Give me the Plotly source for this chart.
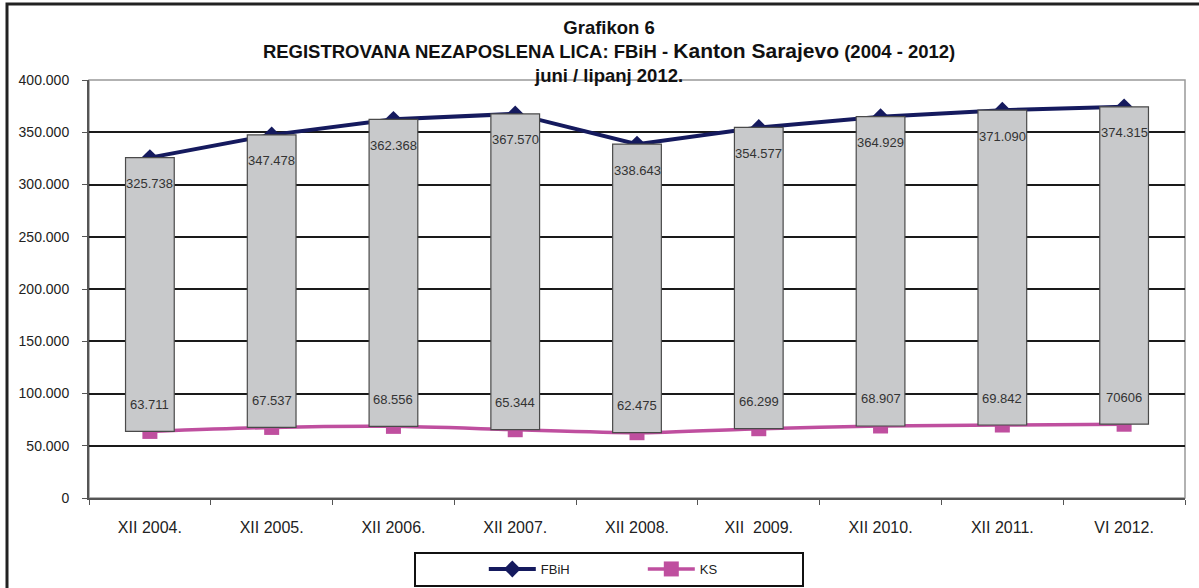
import plotly.graph_objects as go

categories = ["XII 2004.", "XII 2005.", "XII 2006.", "XII 2007.", "XII 2008.",
              "XII\u00a0 2009.", "XII 2010.", "XII 2011.", "VI 2012."]
fbih = [325738, 347478, 362368, 367570, 338643, 354577, 364929, 371090, 374315]
ks = [63711, 67537, 68556, 65344, 62475, 66299, 68907, 69842, 70606]
fbih_labels = ["325.738", "347.478", "362.368", "367.570", "338.643",
               "354.577", "364.929", "371.090", "374.315"]
ks_labels = ["63.711", "67.537", "68.556", "65.344", "62.475",
             "66.299", "68.907", "69.842", "70606"]
y_ticks = [0, 50000, 100000, 150000, 200000, 250000, 300000, 350000, 400000]
grid_vals = [50000, 100000, 150000, 200000, 250000, 300000, 350000]

FONT = "Liberation Sans, Arial, sans-serif"

fig = go.Figure()

fig.add_trace(go.Scatter(
    x=categories, y=fbih, name="FBiH", mode="lines+markers",
    line=dict(color="#151a5e", width=4),
    marker=dict(symbol="diamond", size=13, color="#151a5e"),
    yaxis="y"))
fig.add_trace(go.Scatter(
    x=categories, y=ks, name="KS", mode="lines+markers",
    line=dict(color="#bf4f9f", width=3.5, shape="spline", smoothing=0.6),
    marker=dict(symbol="square", size=15, color="#bf4f9f"),
    yaxis="y"))

fig.add_trace(go.Bar(
    x=categories, y=[f - k for f, k in zip(fbih, ks)], base=ks,
    marker=dict(color="#c8c9cb", line=dict(color="#4a4a4a", width=1.2)),
    width=0.4, showlegend=False, hoverinfo="skip", yaxis="y2"))

annotations = []
for c, v, t in zip(categories, fbih, fbih_labels):
    annotations.append(dict(x=c, y=v, text=t, showarrow=False, yshift=-26,
                            font=dict(size=13, color="#333333", family=FONT)))
for c, v, t in zip(categories, ks, ks_labels):
    annotations.append(dict(x=c, y=v, text=t, showarrow=False, yshift=27,
                            font=dict(size=13, color="#333333", family=FONT)))

title_text = ("<b>Grafikon 6<br>REGISTROVANA NEZAPOSLENA LICA: FBiH - "
              "<span style='font-size:21px'>Kanton Sarajevo</span> (2004 - 2012)"
              "<br>juni / lipanj 2012.</b>")

fig.update_layout(
    width=1199, height=588,
    paper_bgcolor="white", plot_bgcolor="white",
    margin=dict(l=89, r=14, t=80, b=90),
    separators=",.",
    font=dict(family=FONT, size=13, color="#222222"),
    title=dict(text=title_text, x=0.508, xanchor="center",
               y=0.942, yanchor="top", yref="container",
               font=dict(family=FONT, size=18.5, color="#111111")),
    xaxis=dict(type="category", showgrid=False, showline=True,
               linecolor="#555555", linewidth=2, ticks="outside",
               tickson="boundaries", ticklen=5, tickcolor="#555555",
               ticklabelstandoff=14, tickfont=dict(size=16, color="#222222"),
               range=[-0.5, 8.5]),
    yaxis=dict(range=[0, 400000], tickvals=y_ticks, tickformat=",d",
               showgrid=False,
               minor=dict(tickvals=grid_vals, showgrid=True,
                          gridcolor="#1a1a1a", gridwidth=2, ticks=""),
               showline=True, linecolor="#555555", linewidth=2,
               ticks="outside", ticklen=5, tickcolor="#555555",
               ticklabelstandoff=10, zeroline=False,
               tickfont=dict(size=14, color="#222222")),
    yaxis2=dict(range=[0, 400000], overlaying="y", visible=False,
                showgrid=False),
    barmode="overlay",
    showlegend=True,
    legend=dict(orientation="h", x=(414 - 89) / 1096, xanchor="left",
                yref="container", y=1 - 552 / 588, yanchor="top",
                bgcolor="white", bordercolor="#111111",
                borderwidth=2, font=dict(size=13, color="#222222"),
                entrywidth=97, itemwidth=47,
                title=dict(text="\u00a0" * 13, side="left")),
    annotations=annotations,
    shapes=[
        dict(type="rect", xref="paper", yref="paper", x0=0, x1=1, y0=0, y1=1,
             line=dict(color="#999999", width=1.5), layer="below"),
        dict(type="rect", xref="paper", yref="paper",
             x0=(7 - 89) / 1096, x1=1.1, y0=-0.4, y1=(498 - 4) / 418,
             line=dict(color="#222222", width=3), layer="below"),
    ],
)

fig.write_html("out.html", config={"displayModeBar": False},
               post_script="document.body.style.margin='0px';")
